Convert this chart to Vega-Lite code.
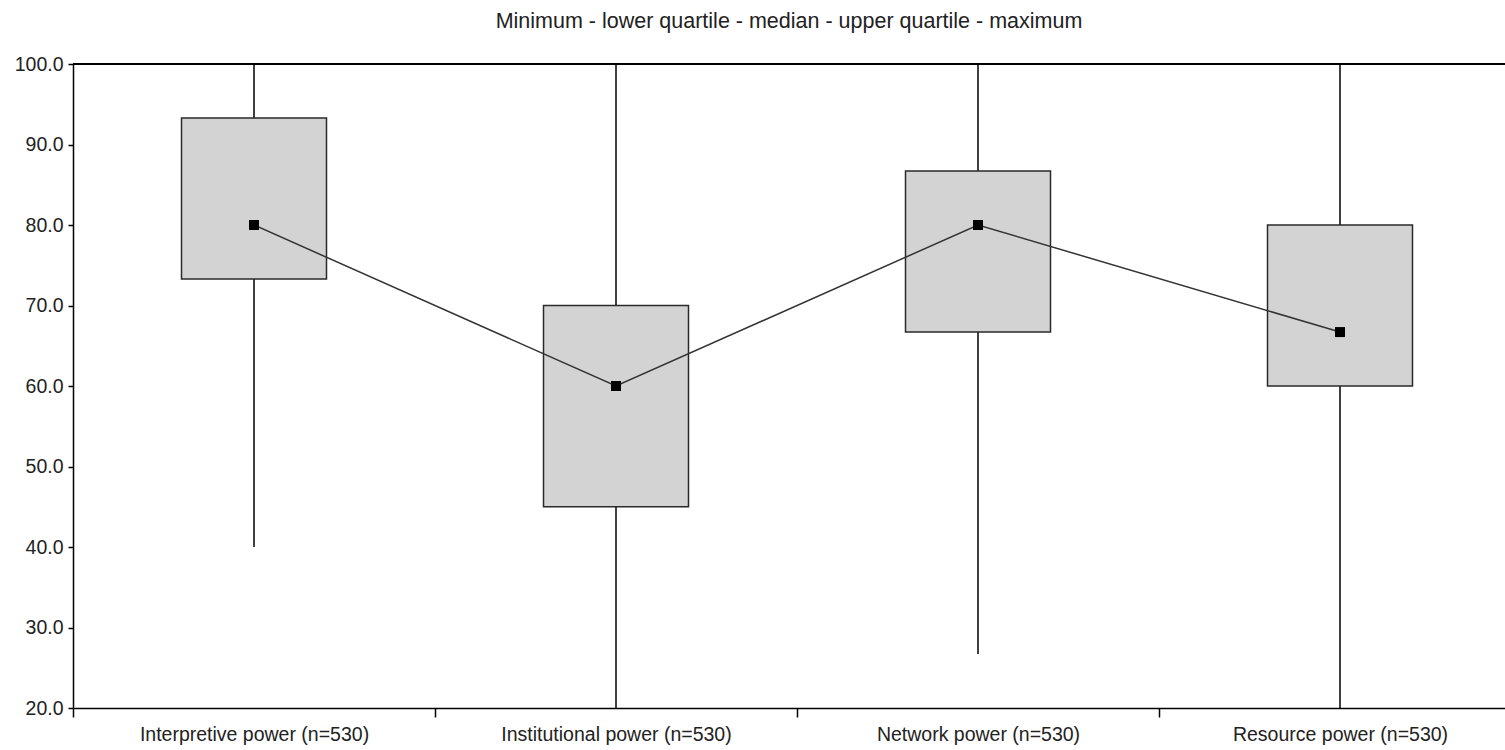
{
  "$schema": "https://vega.github.io/schema/vega-lite/v6.json",
  "width": 1432,
  "height": 644,
  "autosize": {"type": "none"},
  "padding": {"left": 73, "top": 64, "right": 0, "bottom": 42},
  "background": "white",
  "title": {
    "text": "Minimum - lower quartile - median - upper quartile - maximum",
    "font": "Liberation Sans",
    "fontSize": 21.5,
    "fontWeight": "normal",
    "color": "#222",
    "offset": 22,
    "anchor": "middle"
  },
  "data": {
    "values": [
      {"cat": "Interpretive power (n=530)", "min": 40, "q1": 73.3, "median": 80, "q3": 93.3, "max": 100},
      {"cat": "Institutional power (n=530)", "min": 20, "q1": 45, "median": 60, "q3": 70, "max": 100},
      {"cat": "Network power (n=530)", "min": 26.7, "q1": 66.7, "median": 80, "q3": 86.7, "max": 100},
      {"cat": "Resource power (n=530)", "min": 20, "q1": 60, "median": 66.7, "q3": 80, "max": 100}
    ]
  },
  "layer": [
    {
      "mark": {"type": "rule", "color": "#000", "strokeWidth": 1.5},
      "encoding": {
        "x": {
          "field": "cat",
          "type": "nominal",
          "sort": null,
          "scale": {"range": [0, 1448], "paddingInner": 0, "paddingOuter": 0},
          "axis": {
            "title": null,
            "tickBand": "extent",
            "labelAngle": 0,
            "labelLimit": 0,
            "labelFont": "Liberation Sans",
            "labelFontSize": 19.5,
            "labelColor": "#222",
            "labelPadding": 8,
            "tickColor": "#000",
            "tickSize": 9,
            "tickWidth": 1.5,
            "domainColor": "#000",
            "domainWidth": 1.5,
            "grid": false
          }
        },
        "y": {
          "field": "min",
          "type": "quantitative",
          "scale": {"domain": [20, 100], "nice": false, "zero": false},
          "axis": {
            "title": null,
            "values": [20, 30, 40, 50, 60, 70, 80, 90, 100],
            "format": ".1f",
            "labelFont": "Liberation Sans",
            "labelFontSize": 19.5,
            "labelColor": "#222",
            "labelPadding": 5,
            "tickColor": "#000",
            "tickSize": 5,
            "tickWidth": 1.5,
            "domainColor": "#000",
            "domainWidth": 1.5,
            "grid": false
          }
        },
        "y2": {"field": "max"}
      }
    },
    {
      "mark": {"type": "bar", "width": 145, "fill": "#d3d3d3", "stroke": "#2a2a2a", "strokeWidth": 1.5},
      "encoding": {
        "x": {"field": "cat", "type": "nominal", "sort": null},
        "y": {"field": "q1", "type": "quantitative"},
        "y2": {"field": "q3"}
      }
    },
    {
      "mark": {"type": "line", "color": "#333", "strokeWidth": 1.5},
      "encoding": {
        "x": {"field": "cat", "type": "nominal", "sort": null},
        "y": {"field": "median", "type": "quantitative"}
      }
    },
    {
      "mark": {"type": "square", "size": 100, "filled": true, "color": "#000", "opacity": 1},
      "encoding": {
        "x": {"field": "cat", "type": "nominal", "sort": null},
        "y": {"field": "median", "type": "quantitative"}
      }
    },
    {
      "mark": {"type": "rule", "color": "#000", "strokeWidth": 1.5},
      "encoding": {
        "y": {"datum": 100}
      }
    }
  ],
  "config": {"view": {"stroke": null}}
}
